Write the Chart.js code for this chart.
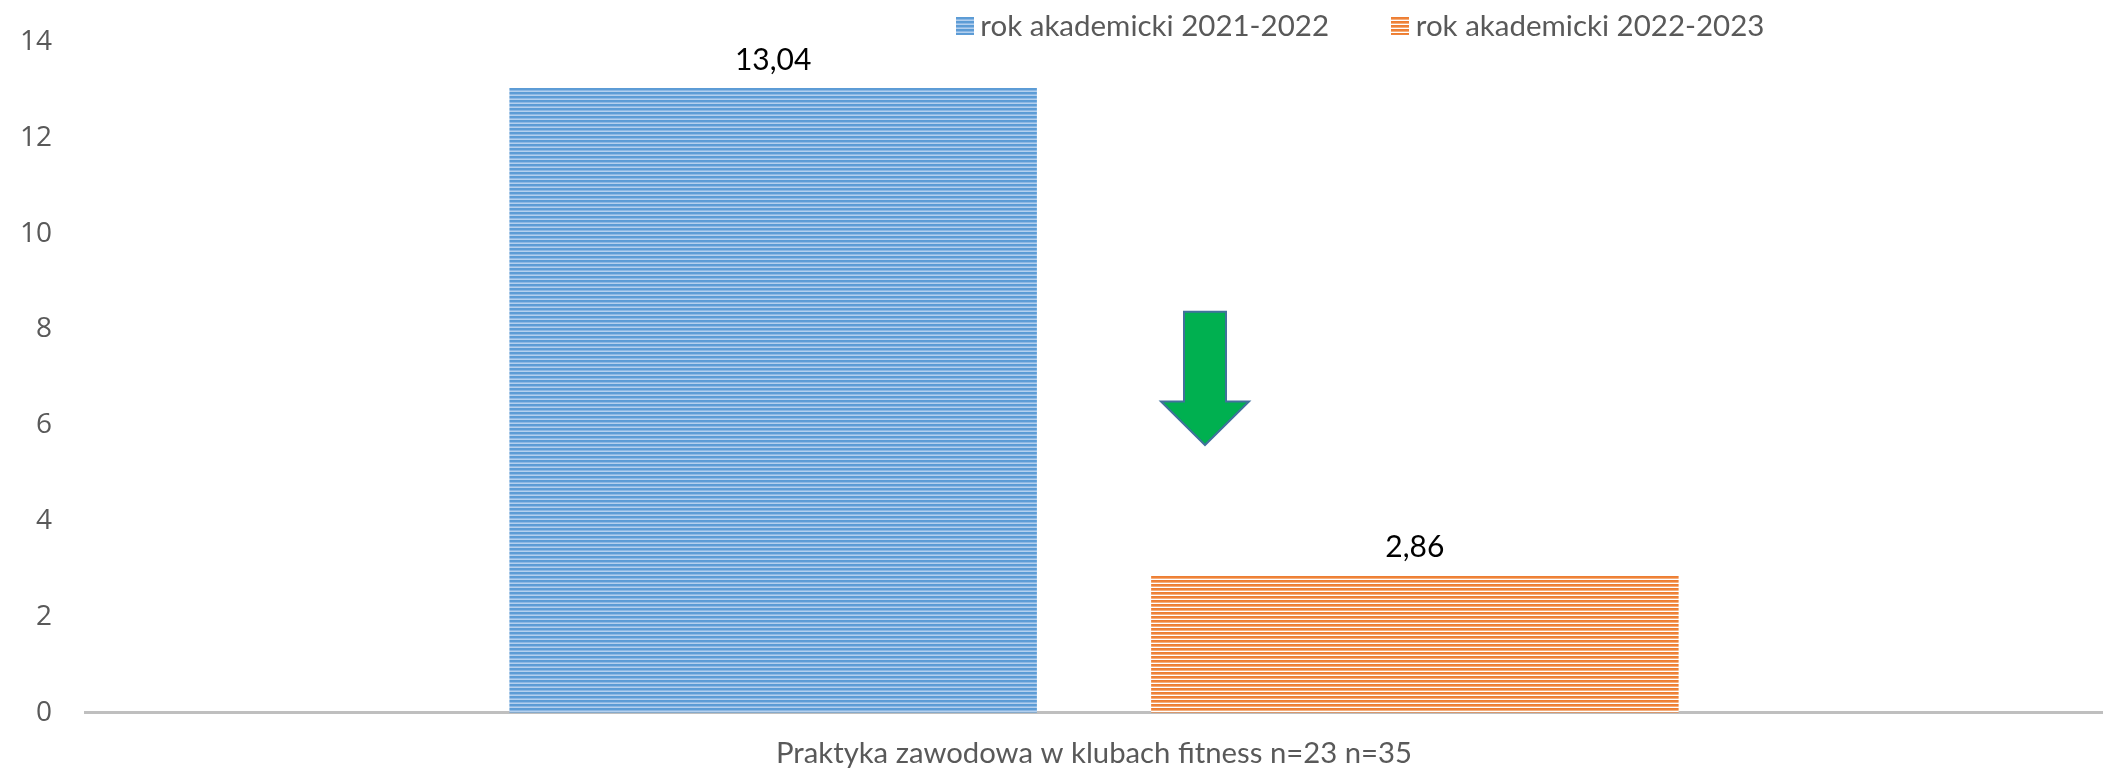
<!DOCTYPE html>
<html>
<head>
<meta charset="utf-8">
<script src="https://cdn.jsdelivr.net/npm/chart.js@4.4.1/dist/chart.umd.min.js"></script>
<style>
  html, body { margin: 0; padding: 0; background: #ffffff; }
  #wrap { width: 2103px; height: 768px; position: relative; }
</style>
</head>
<body>
<div id="wrap"><canvas id="c" width="2103" height="768"></canvas></div>
<script>
// ---- data ----
const categories = ['Praktyka zawodowa w klubach fitness n=23 n=35'];
const seriesNames = ['rok akademicki 2021-2022', 'rok akademicki 2022-2023'];
const values2021 = [13.04];
const values2022 = [2.86];
const yTicks = [0, 2, 4, 6, 8, 10, 12, 14];

// ---- stripe patterns ----
const blueStripes = ['#5B9BD5', '#5E9DD6', '#8DB8E4', '#B4D0EE'];
const orangeStripes = ['#ED7D31', '#EF843B', '#F5AE7C', '#FFFFFF'];
function stripeTile(colors, w, h) {
  const c = document.createElement('canvas');
  c.width = w; c.height = h;
  const g = c.getContext('2d');
  for (let y = 0; y < h; y++) { g.fillStyle = colors[y % colors.length]; g.fillRect(0, y, w, 1); }
  return c;
}
const ctx = document.getElementById('c').getContext('2d');
const bluePat = ctx.createPattern(stripeTile(blueStripes, 8, blueStripes.length), 'repeat');
const orangePat = ctx.createPattern(stripeTile(orangeStripes, 8, orangeStripes.length), 'repeat');
const legendMarkers = [stripeTile(blueStripes, 18, 18), stripeTile(orangeStripes, 18, 18)];

const FONT_MAIN = 'Lato, "Open Sans", sans-serif';

// ---- data labels plugin ----
const dataLabels = {
  id: 'dataLabels',
  afterDatasetsDraw(chart) {
    const g = chart.ctx;
    g.save();
    g.font = '30px ' + FONT_MAIN;
    g.fillStyle = '#000000';
    g.textAlign = 'center';
    g.textBaseline = 'middle';
    chart.data.datasets.forEach((ds, di) => {
      chart.getDatasetMeta(di).data.forEach((bar, i) => {
        const txt = ds.data[i].toFixed(2).replace('.', ',');
        g.fillText(txt, bar.x, bar.y - 28);
      });
    });
    g.restore();
  }
};

// ---- decorative arrow (in data units) ----
const arrowSpec = { xOffsetFrac: 0.055, top: 8.37, headBase: 6.5, tip: 5.59, shaftHalf: 21, headHalf: 44 };
const arrowPlugin = {
  id: 'arrow',
  afterDatasetsDraw(chart) {
    const xs = chart.scales.x, ys = chart.scales.y;
    const catW = xs.width / xs.ticks.length;
    const cx = xs.getPixelForValue(0) + arrowSpec.xOffsetFrac * catW;
    const yTop = ys.getPixelForValue(arrowSpec.top);
    const yHead = ys.getPixelForValue(arrowSpec.headBase);
    const yTip = ys.getPixelForValue(arrowSpec.tip);
    const g = chart.ctx;
    g.save();
    g.beginPath();
    g.moveTo(cx - arrowSpec.shaftHalf, yTop);
    g.lineTo(cx + arrowSpec.shaftHalf, yTop);
    g.lineTo(cx + arrowSpec.shaftHalf, yHead);
    g.lineTo(cx + arrowSpec.headHalf, yHead);
    g.lineTo(cx, yTip);
    g.lineTo(cx - arrowSpec.headHalf, yHead);
    g.lineTo(cx - arrowSpec.shaftHalf, yHead);
    g.closePath();
    g.fillStyle = '#00B050';
    g.fill();
    g.lineWidth = 2;
    g.strokeStyle = '#41719C';
    g.stroke();
    g.restore();
  }
};

// ---- legend placement ----
const LEG_PAD = 70, LEG_FONT = 29.5;
const legendPlace = {
  id: 'legendPlace',
  afterLayout(chart) {
    const lg = chart.legend;
    if (!lg) return;
    const targetCenter = chart.width * 0.6486;
    const shift = targetCenter - (lg.left + lg.right) / 2;
    lg.left += shift; lg.right += shift;
    lg.top = 26 - LEG_PAD - LEG_FONT / 2;
  }
};

new Chart(ctx, {
  type: 'bar',
  data: {
    labels: categories,
    datasets: [
      { label: seriesNames[0], data: values2021, backgroundColor: bluePat, borderWidth: 0 },
      { label: seriesNames[1], data: values2022, backgroundColor: orangePat, borderWidth: 0 }
    ]
  },
  options: {
    responsive: false,
    animation: false,
    devicePixelRatio: 1,
    layout: { padding: { left: -13, right: 0, top: 0, bottom: -26 } },
    datasets: { bar: { categoryPercentage: 0.636, barPercentage: 0.822 } },
    plugins: {
      tooltip: { enabled: false },
      legend: {
        position: 'top',
        align: 'center',
        maxHeight: 42,
        labels: {
          font: { family: FONT_MAIN, size: LEG_FONT },
          color: '#595959',
          usePointStyle: true,
          pointStyleWidth: 2,
          boxHeight: 18,
          padding: LEG_PAD,
          generateLabels(chart) {
            const items = Chart.defaults.plugins.legend.labels.generateLabels(chart);
            items.forEach((it, i) => { it.pointStyle = legendMarkers[i]; it.lineWidth = 0; });
            return items;
          }
        }
      }
    },
    scales: {
      x: {
        grid: { display: false, drawTicks: false },
        border: { display: true, color: '#BFBFBF', width: 3 },
        ticks: { font: { family: FONT_MAIN, size: 29.3 }, color: '#595959', padding: 23 }
      },
      y: {
        min: 0, max: 14,
        afterBuildTicks(axis) { axis.ticks = yTicks.map(v => ({ value: v })); },
        afterFit(axis) { axis.paddingTop = 17; axis.paddingBottom = 17; },
        grid: { display: false, drawTicks: false },
        border: { display: false },
        ticks: { font: { family: '"Open Sans", sans-serif', size: 28 }, color: '#595959', padding: 33 }
      }
    }
  },
  plugins: [dataLabels, arrowPlugin, legendPlace]
});
</script>
</body>
</html>
